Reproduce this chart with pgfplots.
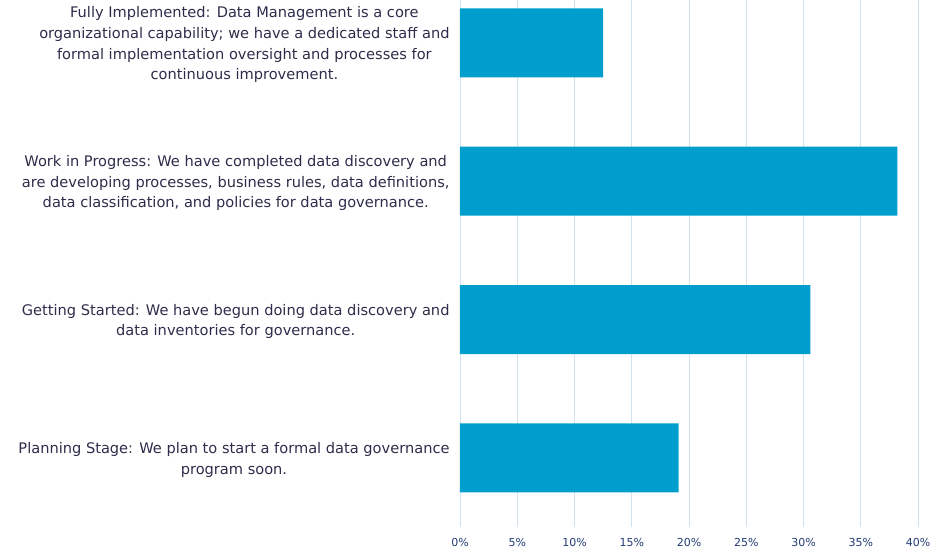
\documentclass[border=0pt]{standalone}
\usepackage{pgfplots}
\pgfplotsset{compat=1.18}
\usepackage{fontspec}
\setmainfont{DejaVu Sans}
\definecolor{barc}{RGB}{0,158,204}
\definecolor{txtc}{RGB}{45,45,75}
\definecolor{tickc}{RGB}{35,60,115}
\definecolor{gridc}{RGB}{210,226,236}
\begin{document}
\begin{tikzpicture}
\useasboundingbox (-460pt,-24pt) rectangle (473pt,527pt);
\begin{axis}[
  scale only axis,
  width=458pt, height=527pt,
  at={(0pt,0pt)}, anchor=south west,
  xbar, bar width=69pt,
  xmin=0, xmax=40,
  ymin=-0.5, ymax=3.31,
  xtick={0,5,...,40},
  xticklabel={\pgfmathprintnumber{\tick}\%},
  xticklabel style={font=\fontsize{11}{13}\selectfont, text=tickc, yshift=-8pt},
  ytick={0,1,2,3},
  yticklabels={
    {Planning Stage: We plan to start a formal data governance\\program soon.},
    {Getting Started: We have begun doing data discovery and\\data inventories for governance.},
    {Work in Progress: We have completed data discovery and\\are developing processes, business rules, data definitions,\\data classification, and policies for data governance.},
    {Fully Implemented: Data Management is a core\\organizational capability; we have a dedicated staff and\\formal implementation oversight and processes for\\continuous improvement.}
  },
  yticklabel style={font=\fontsize{14.6}{20.7}\selectfont, text=txtc, align=center, xshift=-7pt, yshift=-2pt},
  axis line style={draw=none},
  major tick length=0pt,
  xmajorgrids,
  grid style={gridc, line width=0.8pt},
  /pgf/number format/assume math mode=true,
]
\addplot[fill=barc, draw=none] coordinates {(19.1,0) (30.6,1) (38.2,2) (12.5,3)};
\end{axis}
\end{tikzpicture}
\end{document}
